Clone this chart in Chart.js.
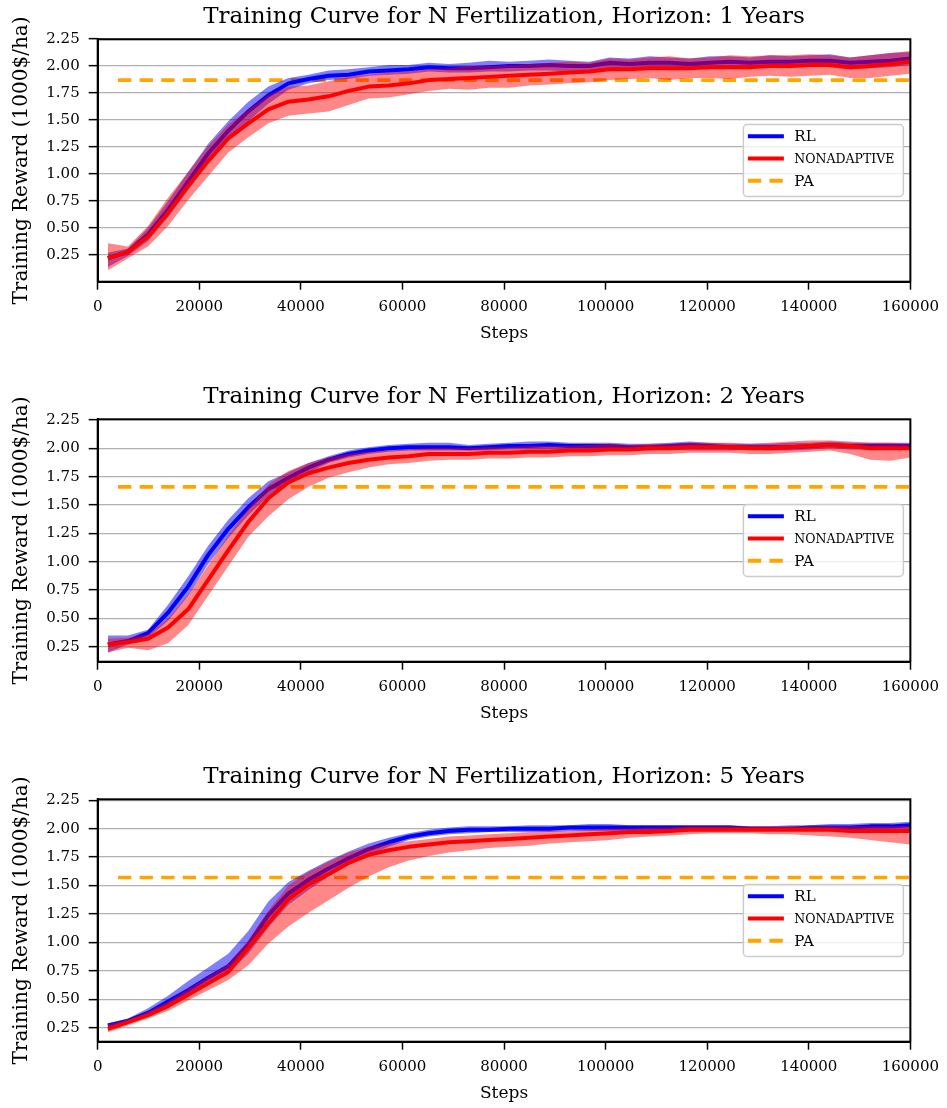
<!DOCTYPE html>
<html>
<head>
<meta charset="utf-8">
<title>Training curves</title>
<script src="https://cdn.jsdelivr.net/npm/chart.js@4.4.1/dist/chart.umd.min.js"></script>
<style>
  html, body { margin: 0; padding: 0; background: #fff; overflow: hidden; }
  canvas { position: absolute; left: 0; }
</style>
</head>
<body>
<canvas id="chart1" width="947" height="346" style="top:0px"></canvas>
<canvas id="chart2" width="947" height="346" style="top:380px"></canvas>
<canvas id="chart3" width="947" height="346" style="top:760px"></canvas>
<script>
// ----- data -----
const steps = [2000, 5950, 9900, 13850, 17800, 21750, 25700, 29650, 33600, 37550,
  41500, 45450, 49400, 53350, 57300, 61250, 65200, 69150, 73100, 77050,
  81000, 84950, 88900, 92850, 96800, 100750, 104700, 108650, 112600, 116550,
  120500, 124450, 128400, 132350, 136300, 140250, 144200, 148150, 152100, 156050, 160000];

const titles = [
  'Training Curve for N Fertilization, Horizon: 1 Years',
  'Training Curve for N Fertilization, Horizon: 2 Years',
  'Training Curve for N Fertilization, Horizon: 5 Years'
];
const yTickValues = [0.25, 0.5, 0.75, 1.0, 1.25, 1.5, 1.75, 2.0, 2.25];
const paLevels = [1.87, 1.66, 1.57];
const paSteps = [4000, 160000];

// horizon 1
const rl1   = [0.22,0.28,0.44,0.67,0.93,1.19,1.40,1.58,1.73,1.84,1.88,1.91,1.92,1.95,1.96,1.97,1.99,1.98,1.98,1.99,2.00,2.00,2.01,2.00,2.00,2.03,2.02,2.03,2.03,2.02,2.03,2.04,2.03,2.04,2.04,2.05,2.05,2.03,2.04,2.05,2.07];
const rl1Lo = [0.14,0.24,0.38,0.60,0.85,1.10,1.31,1.49,1.65,1.78,1.84,1.87,1.88,1.91,1.92,1.93,1.95,1.94,1.94,1.95,1.95,1.96,1.96,1.95,1.95,1.98,1.97,1.98,1.98,1.97,1.98,1.99,1.98,1.99,1.98,2.00,1.99,1.97,1.98,1.99,2.01];
const rl1Hi = [0.27,0.31,0.50,0.75,1.02,1.28,1.49,1.67,1.81,1.89,1.92,1.96,1.97,1.99,2.01,2.01,2.03,2.02,2.03,2.05,2.04,2.05,2.06,2.05,2.04,2.08,2.07,2.09,2.08,2.07,2.09,2.09,2.08,2.10,2.09,2.10,2.11,2.08,2.10,2.12,2.13];
const na1   = [0.22,0.28,0.42,0.64,0.89,1.12,1.33,1.47,1.60,1.67,1.69,1.72,1.77,1.81,1.82,1.84,1.87,1.88,1.89,1.90,1.91,1.92,1.93,1.94,1.95,1.97,1.97,1.98,1.98,1.98,1.99,1.99,1.99,2.00,2.00,2.01,2.01,1.99,2.00,2.02,2.04];
const na1Lo = [0.11,0.22,0.33,0.52,0.76,0.98,1.20,1.34,1.47,1.54,1.56,1.58,1.64,1.70,1.71,1.74,1.77,1.79,1.78,1.80,1.80,1.82,1.83,1.84,1.85,1.87,1.88,1.89,1.87,1.89,1.89,1.88,1.90,1.91,1.90,1.91,1.92,1.89,1.89,1.91,1.93];
const na1Hi = [0.36,0.33,0.52,0.78,1.02,1.26,1.46,1.60,1.73,1.81,1.82,1.86,1.90,1.92,1.94,1.95,1.97,1.98,2.00,2.00,2.01,2.02,2.03,2.04,2.03,2.07,2.06,2.08,2.09,2.07,2.08,2.10,2.09,2.10,2.10,2.11,2.10,2.08,2.10,2.12,2.14];

// horizon 2
const rl2   = [0.27,0.30,0.37,0.55,0.78,1.06,1.29,1.48,1.64,1.74,1.83,1.90,1.95,1.98,2.00,2.01,2.01,2.01,2.00,2.01,2.02,2.02,2.03,2.02,2.02,2.02,2.01,2.01,2.02,2.03,2.02,2.01,2.01,2.01,2.01,2.02,2.03,2.02,2.02,2.02,2.02];
const rl2Lo = [0.20,0.27,0.33,0.48,0.70,0.98,1.21,1.41,1.58,1.70,1.79,1.87,1.92,1.95,1.97,1.98,1.98,1.98,1.98,1.98,1.99,1.99,1.99,1.99,1.99,1.99,1.98,1.98,1.99,1.98,1.98,1.98,1.99,1.98,1.98,1.99,2.00,1.99,1.99,1.99,1.99];
const rl2Hi = [0.35,0.35,0.40,0.62,0.87,1.14,1.37,1.56,1.71,1.79,1.87,1.93,1.98,2.01,2.03,2.04,2.05,2.05,2.03,2.04,2.05,2.06,2.06,2.05,2.05,2.05,2.04,2.04,2.05,2.06,2.05,2.04,2.04,2.04,2.05,2.05,2.06,2.05,2.05,2.05,2.05];
const na2   = [0.27,0.29,0.32,0.42,0.58,0.84,1.10,1.35,1.56,1.70,1.78,1.83,1.87,1.90,1.92,1.93,1.95,1.95,1.95,1.96,1.96,1.97,1.97,1.98,1.98,1.99,1.99,2.00,2.00,2.01,2.01,2.01,2.00,2.00,2.01,2.02,2.03,2.02,2.00,2.00,2.00];
const na2Lo = [0.20,0.24,0.22,0.28,0.44,0.70,0.96,1.22,1.40,1.55,1.66,1.74,1.79,1.83,1.86,1.87,1.89,1.90,1.90,1.91,1.91,1.92,1.92,1.93,1.93,1.94,1.94,1.95,1.95,1.96,1.96,1.96,1.95,1.95,1.96,1.97,1.98,1.95,1.90,1.89,1.92];
const na2Hi = [0.32,0.33,0.36,0.50,0.71,0.97,1.23,1.47,1.68,1.80,1.87,1.92,1.95,1.97,1.98,1.99,2.00,2.00,2.00,2.01,2.01,2.02,2.02,2.02,2.03,2.04,2.03,2.04,2.04,2.05,2.05,2.05,2.04,2.05,2.06,2.07,2.07,2.06,2.05,2.05,2.04];

// horizon 5
const rl3   = [0.27,0.31,0.38,0.48,0.58,0.69,0.79,0.98,1.24,1.43,1.55,1.65,1.74,1.82,1.88,1.93,1.96,1.98,1.99,1.99,2.00,2.00,2.00,2.01,2.01,2.01,2.01,2.01,2.01,2.01,2.01,2.01,2.00,2.00,2.00,2.01,2.01,2.01,2.02,2.02,2.03];
const rl3Lo = [0.25,0.29,0.35,0.44,0.53,0.63,0.73,0.90,1.13,1.33,1.46,1.58,1.68,1.77,1.84,1.90,1.93,1.95,1.96,1.97,1.97,1.97,1.97,1.98,1.98,1.98,1.98,1.98,1.98,1.98,1.98,1.98,1.98,1.98,1.98,1.98,1.98,1.98,1.98,1.98,1.99];
const rl3Hi = [0.29,0.33,0.42,0.53,0.66,0.78,0.90,1.10,1.36,1.53,1.63,1.72,1.80,1.87,1.92,1.96,1.99,2.01,2.02,2.02,2.02,2.03,2.03,2.03,2.04,2.04,2.03,2.03,2.03,2.03,2.03,2.03,2.02,2.02,2.03,2.03,2.04,2.04,2.05,2.05,2.06];
const na3   = [0.24,0.30,0.36,0.44,0.54,0.64,0.74,0.95,1.17,1.38,1.51,1.60,1.70,1.77,1.81,1.84,1.86,1.88,1.89,1.90,1.91,1.92,1.93,1.94,1.95,1.96,1.97,1.97,1.98,1.99,1.99,1.99,1.99,1.99,1.99,1.99,1.99,1.98,1.98,1.98,1.98];
const na3Lo = [0.21,0.27,0.33,0.40,0.49,0.58,0.67,0.80,0.99,1.14,1.26,1.37,1.48,1.58,1.66,1.72,1.76,1.79,1.81,1.83,1.84,1.85,1.87,1.88,1.89,1.90,1.92,1.93,1.94,1.95,1.96,1.96,1.96,1.95,1.95,1.94,1.93,1.92,1.90,1.88,1.86];
const na3Hi = [0.28,0.32,0.39,0.48,0.59,0.70,0.81,1.02,1.28,1.50,1.62,1.71,1.79,1.84,1.87,1.89,1.91,1.93,1.94,1.95,1.96,1.97,1.98,1.98,1.99,2.00,2.00,2.01,2.01,2.02,2.02,2.02,2.02,2.02,2.02,2.02,2.02,2.02,2.02,2.02,2.02];

// y limits of each panel (matplotlib autoscaled them)
const yLimits = [[0.003, 2.248], [0.118, 2.256], [0.127, 2.258]];

const FONT = '"DejaVu Serif", serif';
const BLUE = '#0000ff', RED = '#ff0000', ORANGE = '#ffa500';

const legendItems = [
  { label: 'RL', color: BLUE, dash: [], size: 15 },
  { label: 'NONADAPTIVE', color: RED, dash: [], size: 12.5 },
  { label: 'PA', color: ORANGE, dash: [13.3, 8.3], size: 15 }
];

function points(xs, ys) {
  return xs.map((x, i) => ({ x: x, y: ys[i] }));
}

// full box round the axes + the legend box at "center right"
const frameAndLegend = {
  id: 'frameAndLegend',
  afterLayout(chart) {
    // centre the title on the axes, not the canvas
    if (chart.titleBlock) {
      chart.titleBlock.left = chart.chartArea.left;
      chart.titleBlock.right = chart.chartArea.right;
    }
  },
  afterDraw(chart) {
    const ctx = chart.ctx;
    const a = chart.chartArea;
    ctx.save();
    ctx.strokeStyle = '#000';
    ctx.lineWidth = 2;
    ctx.strokeRect(a.left, a.top, a.right - a.left, a.bottom - a.top);

    const w = 160, h = 72;
    const bx = a.right - 7 - w;
    const by = (a.top + a.bottom) / 2 - h / 2;
    ctx.beginPath();
    ctx.roundRect(bx, by, w, h, 4);
    ctx.fillStyle = 'rgba(255,255,255,0.8)';
    ctx.fill();
    ctx.strokeStyle = '#cccccc';
    ctx.lineWidth = 1.5;
    ctx.stroke();

    legendItems.forEach(function (item, i) {
      const y = by + 11.7 + i * 22.3;
      ctx.beginPath();
      ctx.setLineDash(item.dash);
      ctx.strokeStyle = item.color;
      ctx.lineWidth = 4;
      ctx.moveTo(bx + 4.5, y);
      ctx.lineTo(bx + 40.5, y);
      ctx.stroke();
      ctx.setLineDash([]);
      ctx.fillStyle = '#000';
      ctx.font = item.size + 'px ' + FONT;
      ctx.textBaseline = 'middle';
      ctx.textAlign = 'left';
      ctx.fillText(item.label, bx + 51, y + 1);
    });
    ctx.restore();
  }
};

function makePanel(canvasId, title, yLim, pa, rl, rlLo, rlHi, na, naLo, naHi) {
  const ctx = document.getElementById(canvasId).getContext('2d');
  const band = { borderWidth: 0, pointRadius: 0, tension: 0 };
  const line = { borderWidth: 4, pointRadius: 0, tension: 0, borderJoinStyle: 'round', fill: false };
  return new Chart(ctx, {
    type: 'line',
    data: {
      datasets: [
        Object.assign({ label: 'PA', data: points(paSteps, [pa, pa]), borderColor: ORANGE,
          borderDash: [13.3, 8.3], order: 6 }, line, { borderWidth: 3.6 }),
        Object.assign({ label: 'RL low', data: points(steps, rlLo), fill: false, order: 5 }, band),
        Object.assign({ label: 'RL high', data: points(steps, rlHi), fill: 1,
          backgroundColor: 'rgba(0,0,255,0.5)', order: 4 }, band),
        Object.assign({ label: 'RL', data: points(steps, rl), borderColor: BLUE, order: 3 }, line),
        Object.assign({ label: 'nonadaptive low', data: points(steps, naLo), fill: false, order: 2 }, band),
        Object.assign({ label: 'nonadaptive high', data: points(steps, naHi), fill: 4,
          backgroundColor: 'rgba(255,0,0,0.47)', order: 1 }, band),
        Object.assign({ label: 'nonadaptive', data: points(steps, na), borderColor: RED, order: 0 }, line)
      ]
    },
    options: {
      responsive: false,
      animation: false,
      events: [],
      layout: { padding: { left: 0, right: 33, top: 0, bottom: 0 } },
      plugins: {
        legend: { display: false },
        tooltip: { enabled: false },
        title: {
          display: true,
          text: title,
          color: '#000',
          font: { family: FONT, size: 23, weight: 'normal' },
          padding: { top: 3.2, bottom: 8.5 }
        }
      },
      scales: {
        x: {
          type: 'linear',
          min: 0,
          max: 160000,
          afterFit: function (scale) { scale.height = 64.3; },
          ticks: {
            stepSize: 20000,
            color: '#000',
            padding: 8,
            maxRotation: 0,
            font: { family: FONT, size: 15 },
            callback: function (v) { return String(v); }
          },
          grid: { drawOnChartArea: false, drawTicks: true, tickLength: 8, tickColor: '#000', tickWidth: 1.5 },
          border: { display: true, color: '#000', width: 2 },
          title: {
            display: true,
            text: 'Steps',
            color: '#000',
            font: { family: FONT, size: 17 },
            padding: { top: 0, bottom: 2 }
          }
        },
        y: {
          min: yLim[0],
          max: yLim[1],
          afterFit: function (scale) { scale.width = 97.7; },
          afterBuildTicks: function (scale) {
            scale.ticks = yTickValues.map(function (v) { return { value: v }; });
          },
          ticks: {
            color: '#000',
            padding: 9,
            font: { family: FONT, size: 15 },
            callback: function (v) { return v.toFixed(2); }
          },
          grid: { color: '#b0b0b0', lineWidth: 1.3, drawTicks: true, tickLength: 9, tickColor: '#000', tickWidth: 1.5 },
          border: { display: true, color: '#000', width: 2 },
          title: {
            display: true,
            text: 'Training Reward (1000$/ha)',
            color: '#000',
            font: { family: FONT, size: 20 },
            padding: { top: 10, bottom: 0 }
          }
        }
      }
    },
    plugins: [frameAndLegend]
  });
}

makePanel('chart1', titles[0], yLimits[0], paLevels[0], rl1, rl1Lo, rl1Hi, na1, na1Lo, na1Hi);
makePanel('chart2', titles[1], yLimits[1], paLevels[1], rl2, rl2Lo, rl2Hi, na2, na2Lo, na2Hi);
makePanel('chart3', titles[2], yLimits[2], paLevels[2], rl3, rl3Lo, rl3Hi, na3, na3Lo, na3Hi);
</script>
</body>
</html>
